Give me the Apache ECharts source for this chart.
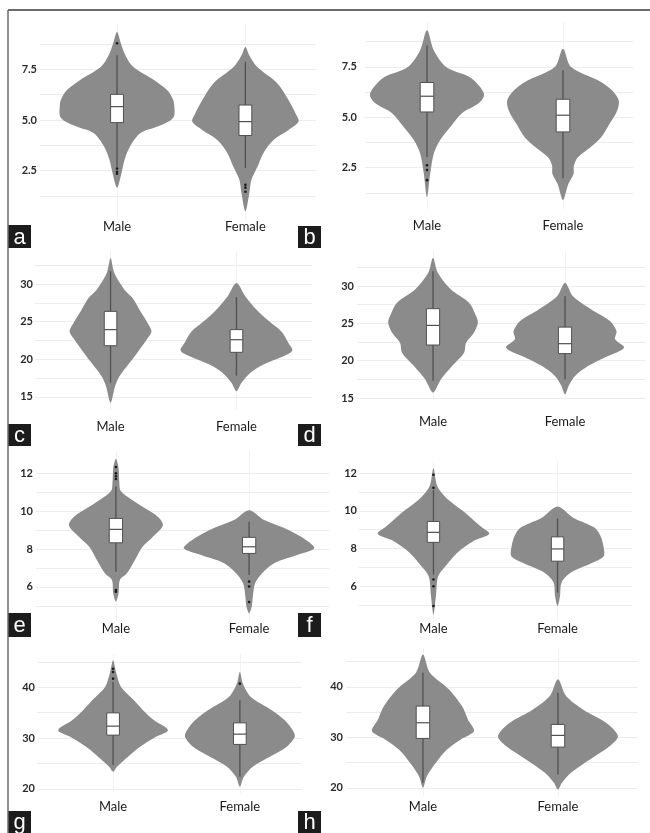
<!DOCTYPE html>
<html>
<head>
<meta charset="utf-8">
<script src="https://cdn.jsdelivr.net/npm/echarts@6/dist/echarts.min.js"></script>
<style>
  html, body { margin: 0; padding: 0; background: #fff; }
  #chart { width: 650px; height: 833px; }
</style>
</head>
<body>
<div id="chart"></div>
<script>
// categories shared by every panel
const categories = ['Male', 'Female'];

// violin outlines: [value, half width as share of the category band], top tip to bottom tip
// box stats: [lower whisker, q1, median, q3, upper whisker]
const aViolin = [
  [[9.35,0],[8.8,0.03],[8.2,0.065],[7.63,0.125],[6.97,0.29],[6.48,0.39],[6.0,0.437],[5.6,0.447],[5.2,0.445],[4.95,0.41],[4.66,0.31],[4.34,0.18],[3.67,0.10],[3.03,0.059],[2.38,0.035],[1.65,0]],
  [[8.61,0],[8.2,0.03],[7.63,0.09],[6.81,0.25],[5.99,0.336],[5.33,0.39],[4.92,0.414],[4.5,0.336],[4.01,0.219],[3.37,0.141],[2.68,0.094],[2.04,0.047],[1.4,0.031],[0.48,0]]
];
const aBox = [[2.68, 4.87, 5.66, 6.27, 8.2], [2.63, 4.23, 4.92, 5.74, 7.88]];
const aOutliers = [[8.8, 2.6, 2.44, 2.34], [1.79, 1.65, 1.45]];
const aGrid = [1.25, 2.5, 3.75, 5, 6.25, 7.5, 8.75];
const aTicks = [2.5, 5, 7.5];

const bViolin = [
  [[9.31,0],[8.32,0.05],[7.49,0.14],[7.0,0.31],[6.5,0.39],[6.09,0.42],[5.69,0.38],[5.2,0.257],[4.5,0.17],[3.86,0.096],[3.2,0.05],[2.22,0.024],[1.04,0]],
  [[8.4,0],[7.49,0.06],[6.83,0.257],[6.34,0.36],[5.84,0.41],[5.35,0.40],[4.7,0.345],[4.0,0.28],[3.5,0.2],[3.02,0.11],[2.6,0.08],[2.2,0.078],[1.7,0.04],[0.9,0]]
];
const bBox = [[3.03, 5.26, 6.04, 6.72, 8.56], [1.98, 4.27, 5.1, 5.89, 7.33]];
const bOutliers = [[2.62, 2.38, 1.88], []];
const bGrid = [1.25, 2.5, 3.75, 5, 6.25, 7.5, 8.75];
const bTicks = [2.5, 5, 7.5];

const cViolin = [
  [[33.46,0],[31.47,0.03],[29.25,0.11],[28.15,0.175],[26.6,0.23],[24.83,0.294],[23.7,0.325],[22.6,0.286],[21.28,0.23],[19.5,0.15],[17.74,0.071],[16.4,0.036],[14.2,0]],
  [[30.14,0],[28.36,0.071],[26.6,0.16],[25.04,0.26],[23.7,0.357],[22.17,0.413],[21.15,0.444],[20.39,0.373],[19.29,0.214],[18.19,0.111],[16.86,0.04],[15.74,0]]
];
const cBox = [[16.9, 21.8, 23.94, 26.37, 31.7], [17.83, 20.92, 22.6, 23.94, 28.28]];
const cOutliers = [[], []];
const cGrid = [15, 17.5, 20, 22.5, 25, 27.5, 30, 32.5];
const cTicks = [15, 20, 25, 30];

const dViolin = [
  [[33.8,0],[31.79,0.036],[29.55,0.136],[27.77,0.273],[25.98,0.326],[25.09,0.34],[23.75,0.31],[22.42,0.25],[21.08,0.235],[19.28,0.144],[17.5,0.06],[15.72,0]],
  [[30.45,0],[28.65,0.06],[26.87,0.2],[25.31,0.34],[23.97,0.39],[22.86,0.38],[21.75,0.447],[20.62,0.326],[19.28,0.174],[17.95,0.076],[16.7,0.03],[15.5,0]]
];
const dBox = [[17.3, 22.1, 24.73, 26.97, 32], [17.5, 20.95, 22.28, 24.5, 28.65]];
const dOutliers = [[], []];
const dGrid = [15, 17.5, 20, 22.5, 25, 27.5, 30, 32.5];
const dTicks = [15, 20, 25, 30];

const eViolin = [
  [[12.77,0],[12.33,0.019],[11.46,0.026],[11.1,0.034],[10.75,0.09],[10.23,0.2],[9.7,0.316],[9.26,0.353],[8.65,0.278],[8.12,0.2],[7.42,0.143],[6.72,0.083],[6.37,0.03],[5.67,0.02],[5.23,0]],
  [[10.05,0],[9.53,0.113],[9.0,0.3],[8.47,0.43],[8.04,0.49],[7.68,0.36],[7.25,0.188],[6.72,0.098],[6.19,0.045],[5.49,0.028],[4.96,0.02],[4.61,0]]
];
const eBox = [[6.8, 8.33, 9.04, 9.62, 11.3], [6.63, 7.77, 8.12, 8.62, 9.44]];
const eOutliers = [[12.33, 12.0, 11.85, 11.7, 5.84, 5.75], [6.28, 6.02, 5.2]];
const eGrid = [5, 6, 7, 8, 9, 10, 11, 12];
const eTicks = [6, 8, 10, 12];

const fViolin = [
  [[12.27,0],[11.3,0.032],[10.59,0.12],[9.89,0.258],[9.18,0.38],[8.78,0.45],[8.39,0.32],[7.77,0.19],[7.06,0.097],[6.53,0.038],[5.5,0.02],[4.5,0]],
  [[10.24,0],[9.62,0.13],[9.1,0.3],[8.65,0.347],[8.12,0.37],[7.59,0.372],[7.24,0.28],[6.71,0.105],[6.19,0.032],[5.48,0.02],[4.95,0]]
];
const fBox = [[6.62, 8.33, 8.86, 9.44, 11.12], [5.66, 7.33, 7.98, 8.62, 9.59]];
const fOutliers = [[11.92, 11.23, 6.36, 6.0, 4.95], []];
const fGrid = [5, 6, 7, 8, 9, 10, 11, 12];
const fTicks = [6, 8, 10, 12];

const gViolin = [
  [[45.3,0],[42.7,0.026],[40.06,0.063],[37.45,0.165],[35.5,0.236],[33.5,0.323],[31.57,0.433],[30.26,0.339],[28.3,0.213],[26.33,0.118],[24.37,0.031],[23.4,0]],
  [[43,0],[40.72,0.024],[38.1,0.087],[35.5,0.252],[33.53,0.354],[31.57,0.417],[30.26,0.433],[28.3,0.37],[26.33,0.236],[24.37,0.102],[22.4,0.031],[20.45,0]]
];
const gBox = [[24.7, 30.59, 32.35, 34.96, 41.04], [22.4, 28.76, 30.78, 33, 37.45]];
const gOutliers = [[43.66, 43.0, 41.7], [40.72]];
const gGrid = [20, 25, 30, 35, 40, 45];
const gTicks = [20, 30, 40];

const hViolin = [
  [[46.4,0],[42.8,0.052],[39.5,0.193],[36.2,0.289],[33.56,0.333],[31.25,0.378],[29.6,0.281],[27.6,0.178],[24.99,0.096],[22.34,0.03],[20.04,0]],
  [[41.5,0],[38.18,0.06],[35.54,0.185],[32.9,0.356],[30.26,0.444],[28.28,0.385],[25.64,0.237],[23.0,0.096],[21.03,0.03],[19.7,0]]
];
const hBox = [[21, 29.8, 32.9, 36.2, 42.8], [22.67, 28.08, 30.4, 32.57, 38.85]];
const hOutliers = [[], []];
const hGrid = [20, 25, 30, 35, 40, 45];
const hTicks = [20, 30, 40];

const panels = [
  { letter: 'a', violin: aViolin, box: aBox, out: aOutliers, grid: aGrid, ticks: aTicks, digits: 1 },
  { letter: 'b', violin: bViolin, box: bBox, out: bOutliers, grid: bGrid, ticks: bTicks, digits: 1 },
  { letter: 'c', violin: cViolin, box: cBox, out: cOutliers, grid: cGrid, ticks: cTicks, digits: 0 },
  { letter: 'd', violin: dViolin, box: dBox, out: dOutliers, grid: dGrid, ticks: dTicks, digits: 0 },
  { letter: 'e', violin: eViolin, box: eBox, out: eOutliers, grid: eGrid, ticks: eTicks, digits: 0 },
  { letter: 'f', violin: fViolin, box: fBox, out: fOutliers, grid: fGrid, ticks: fTicks, digits: 0 },
  { letter: 'g', violin: gViolin, box: gBox, out: gOutliers, grid: gGrid, ticks: gTicks, digits: 0 },
  { letter: 'h', violin: hViolin, box: hBox, out: hOutliers, grid: hGrid, ticks: hTicks, digits: 0 }
];

// where each panel sits, and the axis ranges (ggplot style padding)
const layout = [
  { left: 40,  top: 23,  width: 276, height: 197, xMin: 0.4,   xMax: 2.55,  yMin: 0.05,  yMax: 9.8,   yGap: 3, xGap: 0,  tag: [8, 225, 23, 23] },
  { left: 365, top: 22,  width: 268, height: 187, xMin: 0.544, xMax: 2.515, yMin: 0.45,  yMax: 9.72,  yGap: 8, xGap: 10, tag: [298, 226, 23, 22] },
  { left: 35,  top: 251, width: 277, height: 159, xMin: 0.4,   xMax: 2.6,   yMin: 13.25, yMax: 34.4,  yGap: 2, xGap: 10, tag: [8, 424, 23, 22] },
  { left: 357, top: 251, width: 288, height: 150, xMin: 0.424, xMax: 2.606, yMin: 14.6,  yMax: 34.7,  yGap: 3, xGap: 14, tag: [298, 424, 23, 22] },
  { left: 36,  top: 451, width: 293, height: 170, xMin: 0.4,   xMax: 2.6,   yMin: 4.2,   yMax: 13.18, yGap: 3, xGap: 1,  tag: [8, 613, 23, 24] },
  { left: 359, top: 461, width: 273, height: 161, xMin: 0.4,   xMax: 2.6,   yMin: 4.1,   yMax: 12.65, yGap: 2, xGap: 0,  tag: [298, 613, 23, 24] },
  { left: 37,  top: 654, width: 265, height: 139, xMin: 0.4,   xMax: 2.49,  yMin: 19.2,  yMax: 46.55, yGap: 2, xGap: 7,  tag: [8, 811, 23, 22] },
  { left: 346, top: 648, width: 292, height: 148, xMin: 0.43,  xMax: 2.593, yMin: 18.4,  yMax: 47.7,  yGap: 3, xGap: 4,  tag: [298, 811, 23, 22] }
];

const violinColor = '#8b8b8b';
const lineColor = '#505050';
const gridColor = '#ececec';
const boxHalf = 0.05;

const catPos = categories.map((c, k) => k + 1);

const grids = [], xAxes = [], yAxes = [], series = [], graphics = [];

panels.forEach(function (p, i) {
  const L = layout[i];
  grids.push({ left: L.left, top: L.top, width: L.width, height: L.height, containLabel: false });
  xAxes.push({
    type: 'value', gridIndex: i, min: L.xMin, max: L.xMax,
    axisLine: { show: false },
    axisTick: { show: false, customValues: catPos },
    axisLabel: {
      customValues: catPos, margin: L.xGap,
      formatter: v => categories[Math.round(v) - 1],
      color: '#1a1a1a', fontSize: 13, fontFamily: 'Lato'
    },
    splitLine: { show: true, lineStyle: { color: '#f2f2f2', width: 1 } }
  });
  yAxes.push({
    type: 'value', gridIndex: i, min: L.yMin, max: L.yMax,
    axisLine: { show: false },
    axisTick: { show: false, customValues: p.grid },
    axisLabel: {
      customValues: p.ticks, margin: L.yGap,
      formatter: v => v.toFixed(p.digits),
      color: '#2b2b2b', fontSize: 11, fontWeight: 'bold', fontFamily: 'Lato'
    },
    splitLine: { show: true, lineStyle: { color: gridColor, width: 1 } }
  });
  series.push({
    type: 'custom',
    xAxisIndex: i, yAxisIndex: i,
    data: catPos.map((x, k) => [x, p.box[k][2]]),
    renderItem: function (params, api) {
      const k = params.dataIndex;
      const x = api.value(0);
      const prof = p.violin[k];
      const st = p.box[k];
      const right = prof.map(d => api.coord([x + d[1], d[0]]));
      const left = prof.slice(1, -1).reverse().map(d => api.coord([x - d[1], d[0]]));
      const lo = api.coord([x, st[0]]);
      const hi = api.coord([x, st[4]]);
      const tl = api.coord([x - boxHalf, st[3]]);
      const br = api.coord([x + boxHalf, st[1]]);
      const mL = api.coord([x - boxHalf, st[2]]);
      const mR = api.coord([x + boxHalf, st[2]]);
      const children = [
        { type: 'polygon', shape: { points: right.concat(left), smooth: 0.3 }, style: { fill: violinColor } },
        { type: 'line', shape: { x1: lo[0], y1: lo[1], x2: hi[0], y2: hi[1] }, style: { stroke: lineColor, lineWidth: 1.3 } },
        { type: 'rect', shape: { x: tl[0], y: tl[1], width: br[0] - tl[0], height: br[1] - tl[1] },
          style: { fill: '#ffffff', stroke: lineColor, lineWidth: 1 } },
        { type: 'line', shape: { x1: mL[0], y1: mL[1], x2: mR[0], y2: mR[1] }, style: { stroke: lineColor, lineWidth: 1.2 } }
      ];
      p.out[k].forEach(function (v) {
        const c = api.coord([x, v]);
        children.push({ type: 'circle', shape: { cx: c[0], cy: c[1], r: 1.3 }, style: { fill: '#1a1a1a' } });
      });
      return { type: 'group', children: children };
    },
    silent: true
  });
  // panel letter tag
  graphics.push({
    type: 'group', z: 100,
    children: [
      { type: 'rect', shape: { x: L.tag[0], y: L.tag[1], width: L.tag[2], height: L.tag[3] }, style: { fill: '#1c1c1c' } },
      { type: 'text', x: L.tag[0] + L.tag[2] / 2, y: L.tag[1] + L.tag[3] / 2 + 1,
        style: { text: p.letter, fill: '#ffffff', font: '22px "Liberation Sans", Arial', align: 'center', verticalAlign: 'middle' } }
    ]
  });
});

// figure frame (top and left edges)
graphics.push({ type: 'line', z: 90, shape: { x1: 8, y1: 10, x2: 650, y2: 10 }, style: { stroke: '#3a3a3a', lineWidth: 1.5 } });
graphics.push({ type: 'line', z: 90, shape: { x1: 8, y1: 10, x2: 8, y2: 833 }, style: { stroke: '#6a6a6a', lineWidth: 1.5 } });

const chart = echarts.init(document.getElementById('chart'), null, { renderer: 'canvas' });
chart.setOption({
  backgroundColor: '#ffffff',
  animation: false,
  grid: grids,
  xAxis: xAxes,
  yAxis: yAxes,
  series: series,
  graphic: graphics
});
</script>
</body>
</html>
